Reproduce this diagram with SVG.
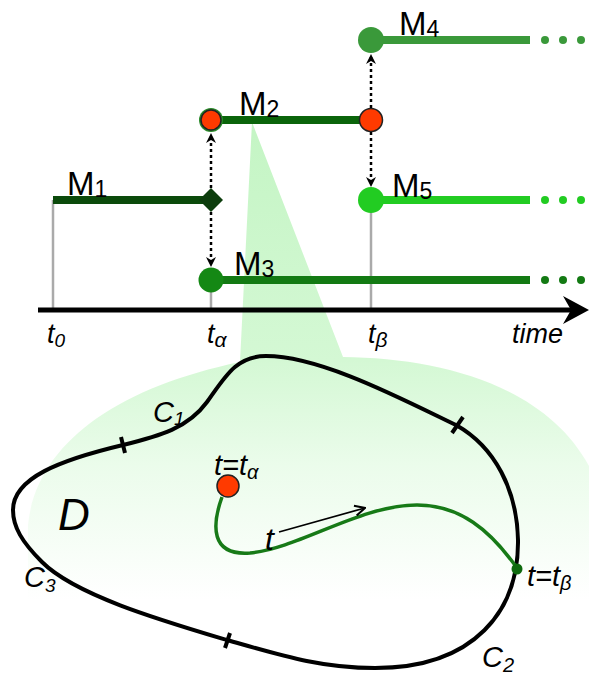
<svg xmlns="http://www.w3.org/2000/svg" width="589" height="679" viewBox="0 0 589 679">
<defs>
<linearGradient id="glow" gradientUnits="userSpaceOnUse" x1="0" y1="120" x2="0" y2="600">
<stop offset="0" stop-color="#c4f5c4"/>
<stop offset="0.5" stop-color="#d4f8d4"/>
<stop offset="0.72" stop-color="#ebfceb"/>
<stop offset="1" stop-color="#ffffff"/>
</linearGradient>
<marker id="dh" viewBox="0 0 10 10" refX="9" refY="5" markerWidth="4" markerHeight="4" orient="auto-start-reverse" markerUnits="strokeWidth">
<path d="M0,0 L10,5 L0,10 L3,5 Z" fill="#000"/>
</marker>
<marker id="ah" viewBox="0 0 10 10" refX="9" refY="5" markerWidth="7" markerHeight="7" orient="auto" markerUnits="strokeWidth">
<path d="M1,1 L9,5 L1,9" fill="none" stroke="#000" stroke-width="1.6"/>
</marker>
<style>
.lbl{font-family:"Liberation Sans",Arial,sans-serif;fill:#000}
.it{font-style:italic}
.grey{stroke:#aaaaaa;stroke-width:2.5}
.dot{stroke:#000;stroke-width:2.5;stroke-dasharray:3,3;fill:none}
.seg{stroke-width:8;fill:none}
.red{fill:#ff3a00;stroke:#222;stroke-width:1.5}
</style>
</defs>

<!-- light cone / projection -->
<path d="M252,122 L343,357 C440,358 545,385 589,466 L589,679 L28,679 L28,525 C36,445 115,388 240,362 Z" fill="url(#glow)"/>

<!-- grey verticals -->
<g id="guides">
<line class="grey" x1="53" y1="200" x2="53" y2="310"/>
<line class="grey" x1="211" y1="290" x2="211" y2="310"/>
<line class="grey" x1="371" y1="210" x2="371" y2="310"/>
</g>

<!-- time axis -->
<g id="axis">
<line x1="38" y1="310" x2="572" y2="310" stroke="#000" stroke-width="5"/>
<polygon points="589,310 563,296 571,310 563,324" fill="#000"/>
<text class="lbl it" x="47" y="343" font-size="27">t<tspan font-size="19" dy="4">0</tspan></text>
<text class="lbl it" x="207" y="343" font-size="27">t<tspan font-size="21" dy="4">α</tspan></text>
<text class="lbl it" x="368" y="343" font-size="27">t<tspan font-size="21" dy="4">β</tspan></text>
<text class="lbl it" x="512" y="343" font-size="27">time</text>
</g>

<!-- models -->
<g id="M1">
<line class="seg" x1="53" y1="200" x2="208" y2="200" stroke="#0b4a0b"/>
<polygon points="211,188 223,200 211,212 199,200" fill="#0d3d0d"/>
<text class="lbl" x="67" y="195" font-size="33">M<tspan font-size="23" dy="2">1</tspan></text>
</g>
<g id="M2">
<line class="seg" x1="211" y1="120" x2="371" y2="120" stroke="#0a640a"/>
<circle cx="211" cy="120" r="12" fill="#2a8a2a"/>
<circle class="red" cx="211" cy="120" r="10"/>
<circle class="red" cx="371" cy="120" r="11.5"/>
<text class="lbl" x="239" y="115" font-size="33">M<tspan font-size="23" dy="2">2</tspan></text>
</g>
<g id="M3">
<line class="seg" x1="211" y1="280" x2="530" y2="280" stroke="#137a13"/>
<circle cx="211" cy="280" r="12.5" fill="#148814"/>
<circle cx="545" cy="280" r="4" fill="#137a13"/>
<circle cx="563" cy="280" r="4" fill="#137a13"/>
<circle cx="581" cy="280" r="4" fill="#137a13"/>
<text class="lbl" x="234" y="275" font-size="33">M<tspan font-size="23" dy="2">3</tspan></text>
</g>
<g id="M4">
<line class="seg" x1="371" y1="40" x2="530" y2="40" stroke="#3a993a"/>
<circle cx="371" cy="40" r="13" fill="#3a993a"/>
<circle cx="545" cy="40" r="4" fill="#3a993a"/>
<circle cx="563" cy="40" r="4" fill="#3a993a"/>
<circle cx="581" cy="40" r="4" fill="#3a993a"/>
<text class="lbl" x="399" y="35" font-size="33">M<tspan font-size="23" dy="2">4</tspan></text>
</g>
<g id="M5">
<line class="seg" x1="371" y1="200" x2="530" y2="200" stroke="#22cc22"/>
<circle cx="371" cy="200" r="13" fill="#22cc22"/>
<circle cx="545" cy="200" r="4" fill="#22cc22"/>
<circle cx="563" cy="200" r="4" fill="#22cc22"/>
<circle cx="581" cy="200" r="4" fill="#22cc22"/>
<text class="lbl" x="392" y="197" font-size="33">M<tspan font-size="23" dy="2">5</tspan></text>
</g>

<!-- dotted transitions -->
<g id="connectors">
<line class="dot" x1="211" y1="188" x2="211" y2="134" marker-end="url(#dh)"/>
<line class="dot" x1="211" y1="212" x2="211" y2="266" marker-end="url(#dh)"/>
<line class="dot" x1="371" y1="108" x2="371" y2="55" marker-end="url(#dh)"/>
<line class="dot" x1="371" y1="132" x2="371" y2="186" marker-end="url(#dh)"/>
</g>

<!-- domain D -->
<g id="domain">
<path d="M13,510 C13,478 60,460 123,445 C160,436 188,428 207,402 C225,377 236,356 266,356 C320,356 400,398 456,425 C495,447 517,490 518,540 C519,610 475,668 375,668 C320,668 280,655 227,640 C160,620 75,595 42,562 C22,542 13,527 13,510 Z" fill="none" stroke="#000" stroke-width="4"/>
<line x1="121" y1="437" x2="125" y2="453" stroke="#000" stroke-width="4"/>
<line x1="463" y1="417" x2="452" y2="433" stroke="#000" stroke-width="4"/>
<line x1="230" y1="633" x2="225" y2="648" stroke="#000" stroke-width="4"/>
<text class="lbl it" x="153" y="422" font-size="29">C<tspan font-size="19" dy="3">1</tspan></text>
<text class="lbl it" x="24" y="587" font-size="29">C<tspan font-size="19" dy="5">3</tspan></text>
<text class="lbl it" x="482" y="667" font-size="29">C<tspan font-size="20" dy="5">2</tspan></text>
<text class="lbl it" x="58" y="530" font-size="44">D</text>
</g>

<!-- trajectory -->
<g id="trajectory">
<path d="M222,497 C212,525 210,556 250,553 C300,548 360,505 417,505 C460,505 490,530 517,568" fill="none" stroke="#177a17" stroke-width="3.5"/>
<circle class="red" cx="228" cy="486" r="11"/>
<circle cx="517" cy="569" r="5.5" fill="#0e6a0e"/>
<line x1="279" y1="532" x2="365" y2="508" stroke="#000" stroke-width="1.8" marker-end="url(#ah)"/>
<text class="lbl it" x="265" y="550" font-size="32">t</text>
<text class="lbl it" x="214" y="475" font-size="29">t=t<tspan font-size="20" dy="4">α</tspan></text>
<text class="lbl it" x="527" y="586" font-size="29">t=t<tspan font-size="20" dy="4">β</tspan></text>
</g>
</svg>
